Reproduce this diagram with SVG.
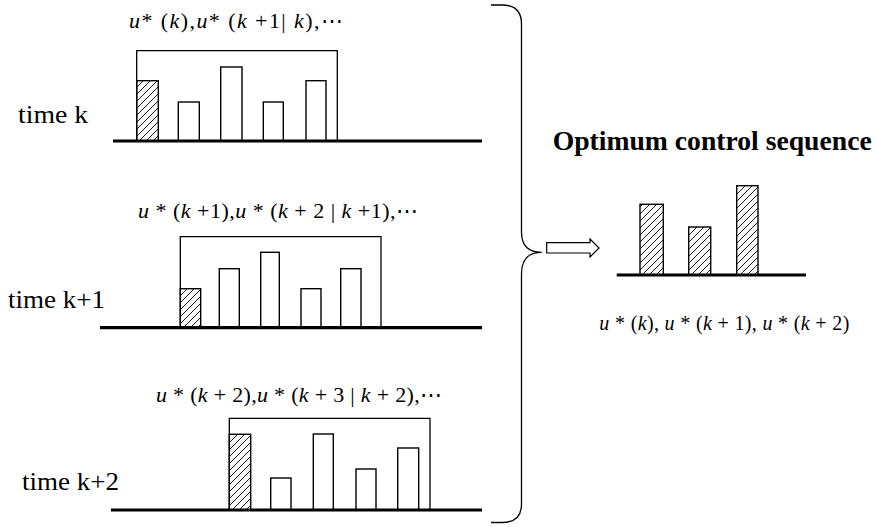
<svg xmlns="http://www.w3.org/2000/svg" width="877" height="527" viewBox="0 0 877 527">
<defs>
<pattern id="hatch" patternUnits="userSpaceOnUse" width="7" height="7">
<path d="M-1,8 L8,-1 M-1,1 L1,-1 M6,8 L8,6" stroke="#000" stroke-width="0.9"/>
</pattern>
</defs>
<style>
.base{stroke:#000;stroke-width:3.2;fill:none}
.bar{fill:#fff;stroke:#000;stroke-width:1.4}
.hb{fill:url(#hatch);stroke:#000;stroke-width:1.4}
.box{fill:none;stroke:#000;stroke-width:1.3}
.lbl{font-family:"Liberation Serif",serif;font-size:26px;fill:#000}
.math{font-family:"Liberation Serif",serif;font-size:22px;fill:#000}
.math2{font-family:"Liberation Serif",serif;font-size:20px;fill:#000}
.it{font-style:italic}
.title{font-family:"Liberation Serif",serif;font-size:27px;font-weight:bold;fill:#000}
</style>
<rect width="877" height="527" fill="#fff"/>

<g id="panel-k">
<text class="lbl" x="18" y="123" textLength="70" lengthAdjust="spacingAndGlyphs">time k</text>
<text class="math" x="129" y="28" textLength="214" lengthAdjust="spacing" xml:space="preserve"><tspan class="it">u</tspan>* (<tspan class="it">k</tspan>),<tspan class="it">u</tspan>* (<tspan class="it">k</tspan> +1| <tspan class="it">k</tspan>),⋯</text>
<polyline class="box" points="136.7,141 136.7,50.7 337.3,50.7 337.3,141"/>
<rect class="hb" x="136.7" y="80.7" width="21.6" height="60.3"/>
<rect class="bar" x="178.3" y="102" width="21" height="39"/>
<rect class="bar" x="220.7" y="67" width="21.3" height="74"/>
<rect class="bar" x="263.3" y="102" width="20" height="39"/>
<rect class="bar" x="306" y="80.7" width="20" height="60.3"/>
<line class="base" x1="113" y1="141" x2="482" y2="141"/>
</g>

<g id="panel-k1">
<text class="lbl" x="8" y="308" textLength="97" lengthAdjust="spacingAndGlyphs">time k+1</text>
<text class="math" x="138" y="218" textLength="280" lengthAdjust="spacing" xml:space="preserve"><tspan class="it">u</tspan> * (<tspan class="it">k</tspan> +1),<tspan class="it">u</tspan> * (<tspan class="it">k</tspan> + 2 | <tspan class="it">k</tspan> +1),⋯</text>
<polyline class="box" points="180.3,327.7 180.3,236.7 381,236.7 381,327.7"/>
<rect class="hb" x="180.3" y="288.7" width="20.4" height="39"/>
<rect class="bar" x="219.3" y="268.7" width="20" height="59"/>
<rect class="bar" x="260.7" y="252.3" width="18.6" height="75.4"/>
<rect class="bar" x="301" y="288.7" width="20" height="39"/>
<rect class="bar" x="340.7" y="268.7" width="20.3" height="59"/>
<line class="base" x1="100" y1="327.7" x2="482" y2="327.7"/>
</g>

<g id="panel-k2">
<text class="lbl" x="22" y="490" textLength="97" lengthAdjust="spacingAndGlyphs">time k+2</text>
<text class="math" x="156" y="401.7" textLength="286" lengthAdjust="spacing" xml:space="preserve"><tspan class="it">u</tspan> * (<tspan class="it">k</tspan> + 2),<tspan class="it">u</tspan> * (<tspan class="it">k</tspan> + 3 | <tspan class="it">k</tspan> + 2),⋯</text>
<polyline class="box" points="229.3,510 229.3,418.3 430,418.3 430,510"/>
<rect class="hb" x="229.3" y="434.3" width="21.4" height="75.7"/>
<rect class="bar" x="270.7" y="478" width="20.3" height="32"/>
<rect class="bar" x="313.3" y="434" width="20" height="76"/>
<rect class="bar" x="356" y="469" width="20" height="41"/>
<rect class="bar" x="397.7" y="448" width="21" height="62"/>
<line class="base" x1="111" y1="510" x2="482" y2="510"/>
</g>

<g id="connectors">
<path d="M491,5 L502,5 Q521.5,5 521.5,24 L521.5,232 Q521.5,252.3 541.7,252.3 Q521.5,252.3 521.5,274 L521.5,504 Q521.5,522.5 502,522.5 L491,522.5" fill="none" stroke="#000" stroke-width="1.3"/>
<polygon points="546.7,242.7 590,242.7 590,239 599,248 590,257 590,253 546.7,253" fill="#fff" stroke="#000" stroke-width="1.2"/>
</g>

<g id="result">
<text class="title" x="552.7" y="150" textLength="319" lengthAdjust="spacingAndGlyphs">Optimum control sequence</text>
<rect class="hb" x="640" y="204.3" width="23.3" height="70.7"/>
<rect class="hb" x="688.7" y="227" width="22" height="48"/>
<rect class="hb" x="736.7" y="185.7" width="21.3" height="89.3"/>
<line class="base" x1="616.7" y1="275" x2="806" y2="275"/>
<text class="math2" x="599.3" y="330" textLength="250" lengthAdjust="spacing" xml:space="preserve"><tspan class="it">u</tspan> * (<tspan class="it">k</tspan>), <tspan class="it">u</tspan> * (<tspan class="it">k</tspan> + 1), <tspan class="it">u</tspan> * (<tspan class="it">k</tspan> + 2)</text>
</g>
</svg>
